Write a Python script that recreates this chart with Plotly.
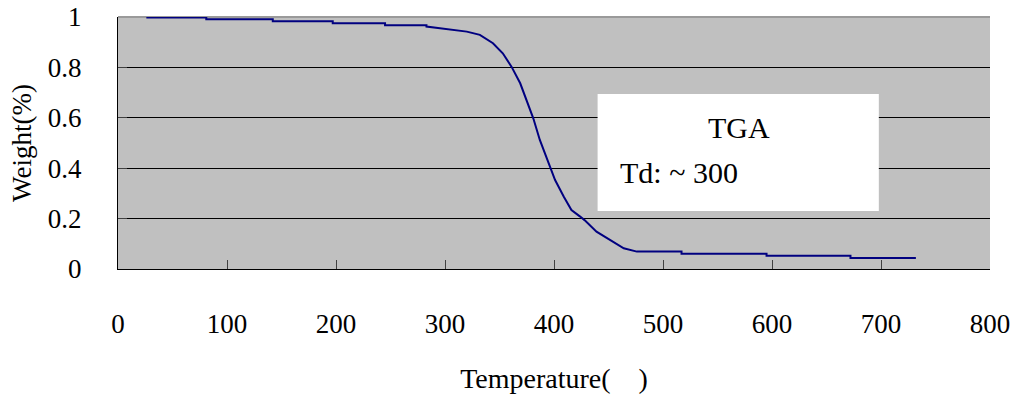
import plotly.graph_objects as go

# TGA curve
temperature = [26, 81, 81, 142, 142, 197, 197, 245, 245, 283, 283, 301, 320, 332, 344, 353, 361,
               369, 375, 381, 387, 395, 401, 409, 416, 424, 428, 439, 451, 464, 476,
               517, 517, 595, 595, 672, 672, 732]
weight = [0.998, 0.998, 0.991, 0.991, 0.983, 0.983, 0.975, 0.975, 0.967, 0.967, 0.962, 0.953, 0.942,
          0.929, 0.896, 0.856, 0.803, 0.737, 0.671, 0.598, 0.512, 0.419, 0.353, 0.287,
          0.234, 0.208, 0.194, 0.148, 0.115, 0.082, 0.069,
          0.069, 0.061, 0.061, 0.053, 0.053, 0.044, 0.044]

x_ticks = [0, 100, 200, 300, 400, 500, 600, 700, 800]
y_ticks = [0, 0.2, 0.4, 0.6, 0.8, 1]

FONT = "Liberation Serif"

fig = go.Figure()
fig.add_trace(go.Scatter(x=temperature, y=weight, mode="lines", cliponaxis=False,
                         line=dict(color="#000080", width=2), showlegend=False))

fig.update_layout(
    width=1016, height=394,
    margin=dict(l=118, r=26, t=17, b=125, autoexpand=False),
    paper_bgcolor="white", plot_bgcolor="#c0c0c0",
    font=dict(family=FONT, size=27, color="black"),
    xaxis=dict(range=[0, 800], tickvals=x_ticks, ticks="inside", ticklen=9,
               tickcolor="#404040", showgrid=False, zeroline=False, automargin=False,
               showline=True, linecolor="black", linewidth=1,
               ticklabelstandoff=31,
               title=dict(text="Temperature(\u00a0\u00a0\u00a0\u00a0)", standoff=35,
                          font=dict(family=FONT, size=28))),
    yaxis=dict(range=[0, 1], tickvals=y_ticks, ticks="inside", ticklen=9,
               tickcolor="#404040", showgrid=True, gridcolor="black", gridwidth=1,
               zeroline=False, showline=True, linecolor="black", linewidth=1,
               ticklabelstandoff=30, automargin=False,
               title=dict(text="Weight(%)", standoff=8,
                          font=dict(family=FONT, size=27))),
)

# top border
fig.add_shape(type="line", xref="paper", yref="paper", x0=0, x1=1, y0=1, y1=1,
              line=dict(color="#9a9a9a", width=2), layer="below")

# white text box
fig.add_shape(type="rect", xref="x", yref="y", x0=440, x1=698, y0=0.23, y1=0.694,
              fillcolor="white", line=dict(width=0), layer="above")
fig.add_annotation(x=570, y=0.56, xref="x", yref="y", text="TGA", showarrow=False,
                   font=dict(family=FONT, size=30), xanchor="center", yanchor="middle")
fig.add_annotation(x=459, y=0.381, xref="x", yref="y", text="Td: ~ 300", showarrow=False,
                   font=dict(family=FONT, size=30), xanchor="left", yanchor="middle")

fig.write_html("out.html", config={"displayModeBar": False},
               post_script="document.body.style.margin='0';document.body.style.overflow='hidden';")
